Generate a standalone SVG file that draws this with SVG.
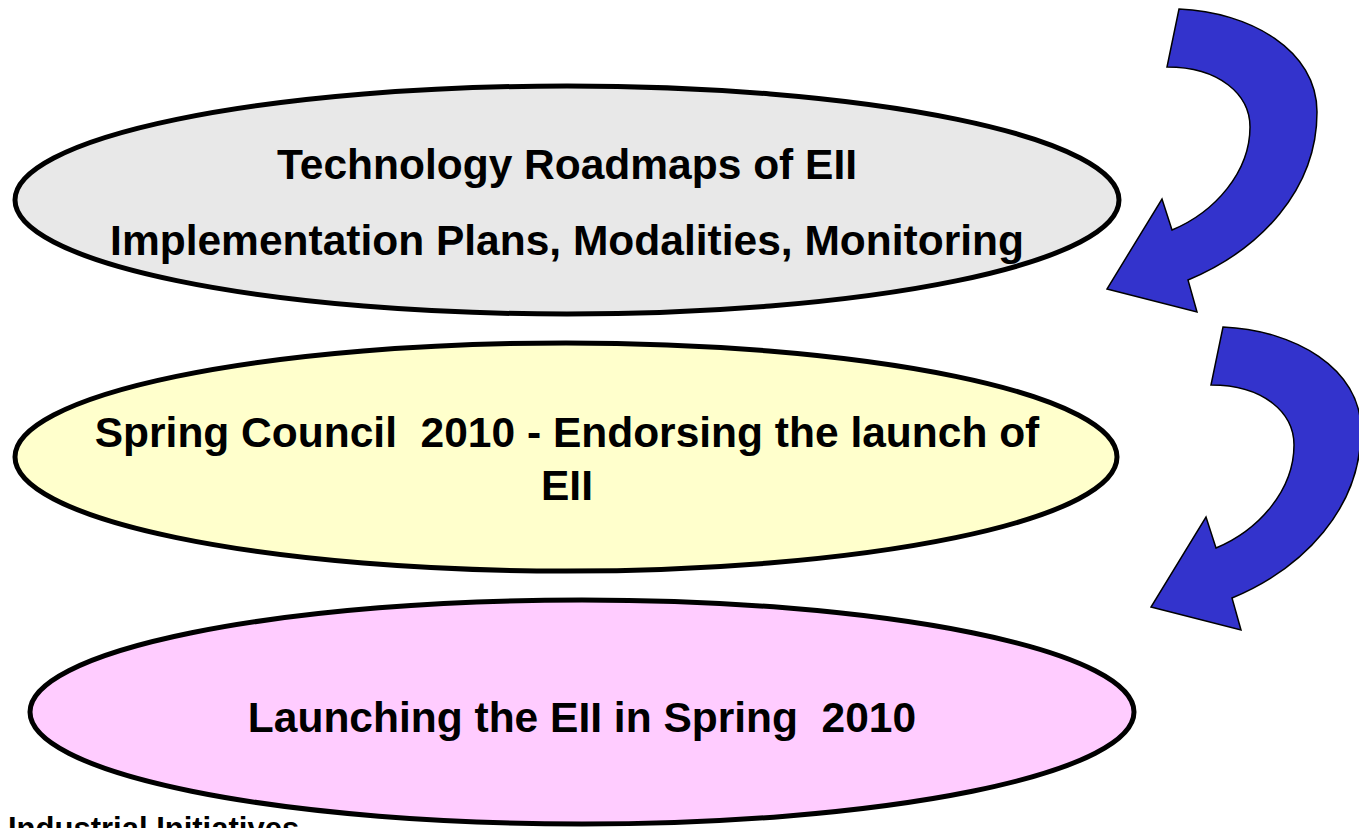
<svg xmlns="http://www.w3.org/2000/svg" xmlns:xlink="http://www.w3.org/1999/xlink" width="1359" height="828" viewBox="0 0 1359 828">
<style>
.node ellipse{stroke:#000;stroke-width:5}
.lbl{font-family:"Liberation Sans",Arial,sans-serif;font-weight:bold;font-size:42.5px;fill:#000;text-anchor:middle;white-space:pre}
.arrow{fill:#3333cc;stroke:#000;stroke-width:1.5;stroke-linejoin:miter}
</style>
<defs>
<path id="curved" class="arrow" d="M1179 9 C1250 12 1317 50 1317 112 C1317 190 1260 250 1188 280 L1197 312 L1107 289 L1162 199 L1172 230 C1215 212 1250 172 1250 127 C1250 95 1220 67 1167 67 Z"/>
</defs>
<rect width="1359" height="828" fill="#fff"/>
<g id="connectors">
<use xlink:href="#curved"/>
<use xlink:href="#curved" transform="translate(44,318)"/>
</g>
<g id="node-roadmaps" class="node">
<ellipse cx="567" cy="200" rx="552" ry="114" fill="#e8e8e8"/>
<text class="lbl" x="567" y="179">Technology Roadmaps of EII</text>
<text class="lbl" x="567" y="255">Implementation Plans, Modalities, Monitoring</text>
</g>
<g id="node-council" class="node">
<ellipse cx="566" cy="457" rx="551" ry="114" fill="#ffffcc"/>
<text class="lbl" x="567" y="447" xml:space="preserve">Spring Council  2010 - Endorsing the launch of</text>
<text class="lbl" x="567" y="500">EII</text>
</g>
<g id="node-launch" class="node">
<ellipse cx="582" cy="712" rx="552" ry="112" fill="#ffccff"/>
<text class="lbl" x="582" y="732" xml:space="preserve">Launching the EII in Spring  2010</text>
</g>
<text x="8" y="839" font-family="Liberation Sans, Arial, sans-serif" font-weight="bold" font-size="31" fill="#000">Industrial Initiatives</text>
</svg>
